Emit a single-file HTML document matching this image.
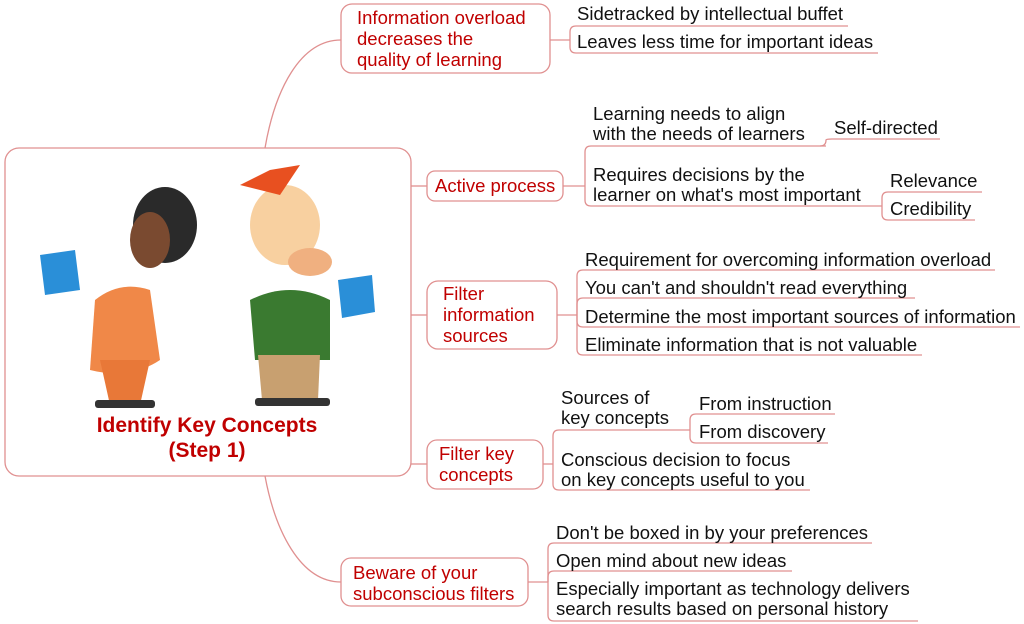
<!DOCTYPE html>
<html><head><meta charset="utf-8"><style>
html,body{margin:0;padding:0;background:#fff;}
svg{display:block;}
text{font-family:"Liberation Sans",Arial,sans-serif;}
.l{font-size:18.5px;fill:#111;}
.t{font-size:18.5px;fill:#c00000;}
</style></head><body>
<svg width="1024" height="624" viewBox="0 0 1024 624" xmlns="http://www.w3.org/2000/svg">
<g fill="none" stroke="#e09090" stroke-width="1.3">
<rect x="5" y="148" width="406" height="328" rx="14"/>
<rect x="341" y="4" width="209" height="69" rx="11"/>
<rect x="427" y="171" width="136" height="30" rx="8"/>
<rect x="427" y="281" width="130" height="68" rx="11"/>
<rect x="427" y="440" width="116" height="49" rx="10"/>
<rect x="341" y="558" width="187" height="48" rx="10"/>
<path d="M265,148 C275,90 300,40 341,40"/>
<path d="M411,186 H427"/>
<path d="M411,315 H427"/>
<path d="M411,464 H427"/>
<path d="M265,476 C275,530 300,582 341,582"/>
<path d="M550,40 H570"/>
<path d="M570,40 V32 Q570,26 576,26 H848"/>
<path d="M570,40 V47 Q570,53 576,53 H878"/>
<path d="M563,186 H585"/>
<path d="M585,186 V152 Q585,146 591,146 H826"/>
<path d="M585,186 V200 Q585,206 591,206 H882"/>
<path d="M820,146 Q826,146 826,140 Q826,139 832,139 H940"/>
<path d="M882,206 V198 Q882,192 888,192 H982"/>
<path d="M882,206 V214 Q882,220 888,220 H975"/>
<path d="M557,315 H577"/>
<path d="M577,315 V276 Q577,270 583,270 H995"/>
<path d="M577,315 V304 Q577,298 583,298 H915"/>
<path d="M577,315 V321 Q577,327 583,327 H1020"/>
<path d="M577,315 V349 Q577,355 583,355 H922"/>
<path d="M543,464 H553"/>
<path d="M553,464 V436 Q553,430 559,430 H690"/>
<path d="M553,464 V484 Q553,490 559,490 H810"/>
<path d="M690,430 V420 Q690,414 696,414 H835"/>
<path d="M690,430 V437 Q690,443 696,443 H828"/>
<path d="M528,582 H548"/>
<path d="M548,582 V549 Q548,543 554,543 H872"/>
<path d="M548,582 V577 Q548,571 554,571 H792"/>
<path d="M548,582 V615 Q548,621 554,621 H918"/>
</g>
<g>
<ellipse cx="165" cy="225" rx="32" ry="38" fill="#2a2a2a"/>
<ellipse cx="150" cy="240" rx="20" ry="28" fill="#7a4a30"/>
<path d="M95,300 Q120,280 150,290 L160,360 Q130,380 90,370 Z" fill="#f08848"/>
<path d="M100,360 L150,360 L140,405 L110,405 Z" fill="#e87838"/>
<rect x="95" y="400" width="60" height="8" rx="3" fill="#333"/>
<path d="M40,255 L75,250 L80,290 L45,295 Z" fill="#2a8fd8"/>
<ellipse cx="285" cy="225" rx="35" ry="40" fill="#f8d0a0"/>
<path d="M240,185 L270,170 L300,165 L280,195 Z" fill="#e85020"/>
<ellipse cx="310" cy="262" rx="22" ry="14" fill="#f0b080"/>
<path d="M250,300 Q290,280 330,300 L330,360 L255,360 Z" fill="#3a7a30"/>
<path d="M258,355 L320,355 L318,400 L262,400 Z" fill="#c8a070"/>
<rect x="255" y="398" width="75" height="8" rx="3" fill="#333"/>
<path d="M338,280 L372,275 L375,312 L342,318 Z" fill="#2a8fd8"/>
</g>
<text x="207" y="432" text-anchor="middle" font-size="21" font-weight="bold" fill="#c00000">Identify Key Concepts</text>
<text x="207" y="457" text-anchor="middle" font-size="21" font-weight="bold" fill="#c00000">(Step 1)</text>
<text class="t" x="357" y="24">Information overload</text>
<text class="t" x="357" y="45">decreases the</text>
<text class="t" x="357" y="66">quality of learning</text>
<text class="t" x="435" y="192">Active process</text>
<text class="t" x="443" y="300">Filter</text>
<text class="t" x="443" y="321">information</text>
<text class="t" x="443" y="342">sources</text>
<text class="t" x="439" y="460">Filter key</text>
<text class="t" x="439" y="481">concepts</text>
<text class="t" x="353" y="579">Beware of your</text>
<text class="t" x="353" y="600">subconscious filters</text>
<text class="l" x="577" y="20">Sidetracked by intellectual buffet</text>
<text class="l" x="577" y="48">Leaves less time for important ideas</text>
<text class="l" x="593" y="120">Learning needs to align</text>
<text class="l" x="593" y="140">with the needs of learners</text>
<text class="l" x="834" y="134">Self-directed</text>
<text class="l" x="593" y="181">Requires decisions by the</text>
<text class="l" x="593" y="201">learner on what's most important</text>
<text class="l" x="890" y="187">Relevance</text>
<text class="l" x="890" y="215">Credibility</text>
<text class="l" x="585" y="266">Requirement for overcoming information overload</text>
<text class="l" x="585" y="294">You can't and shouldn't read everything</text>
<text class="l" x="585" y="323">Determine the most important sources of information</text>
<text class="l" x="585" y="351">Eliminate information that is not valuable</text>
<text class="l" x="561" y="404">Sources of</text>
<text class="l" x="561" y="424">key concepts</text>
<text class="l" x="699" y="410">From instruction</text>
<text class="l" x="699" y="438">From discovery</text>
<text class="l" x="561" y="466">Conscious decision to focus</text>
<text class="l" x="561" y="486">on key concepts useful to you</text>
<text class="l" x="556" y="539">Don't be boxed in by your preferences</text>
<text class="l" x="556" y="567">Open mind about new ideas</text>
<text class="l" x="556" y="595">Especially important as technology delivers</text>
<text class="l" x="556" y="615">search results based on personal history</text>
</svg>
</body></html>
